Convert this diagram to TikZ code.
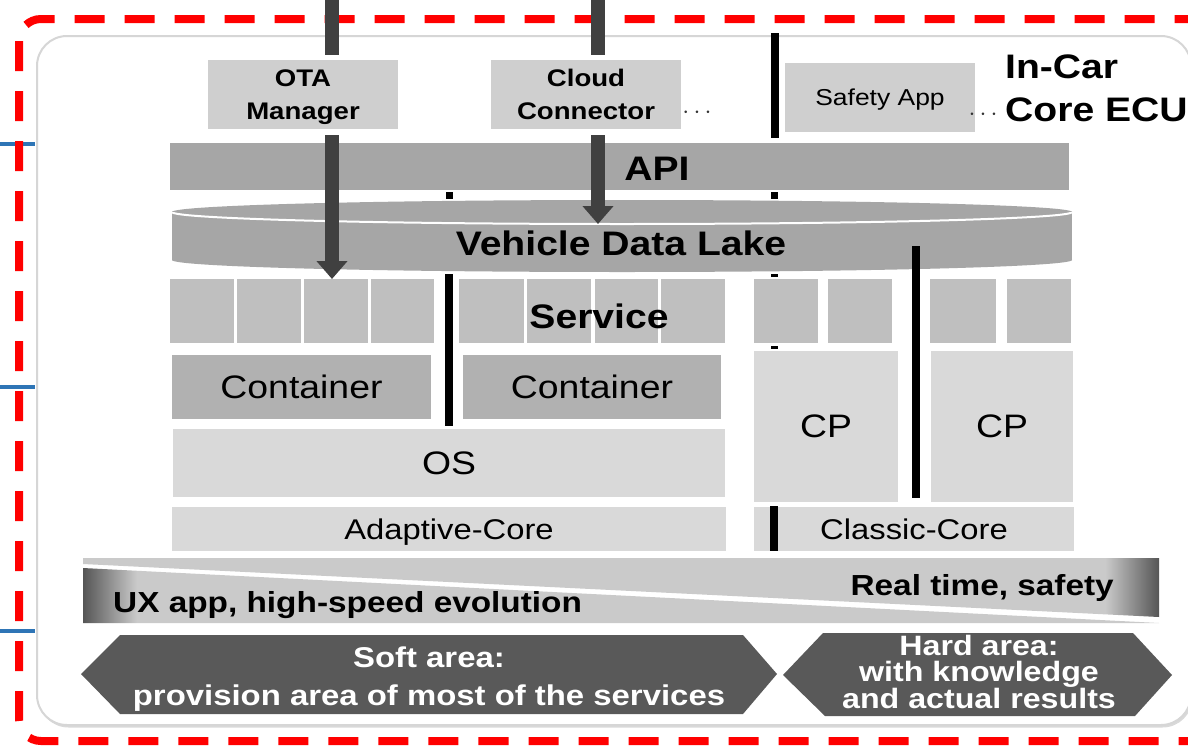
\documentclass[tikz,border=0pt]{standalone}
\usepackage{fontspec}
\setmainfont{Liberation Sans}[FakeStretch=1.15]
\usetikzlibrary{arrows.meta,shadows}

\definecolor{appgray}{HTML}{CFCFCF}
\definecolor{bargray}{HTML}{A6A6A6}
\definecolor{svcgray}{HTML}{BFBFBF}
\definecolor{contgray}{HTML}{B1B1B1}
\definecolor{basegray}{HTML}{D9D9D9}
\definecolor{areagray}{HTML}{595959}
\definecolor{arrowgray}{HTML}{404040}
\definecolor{tickblue}{HTML}{2E75B6}
\definecolor{framegray}{HTML}{D6D6D6}
\definecolor{bandlight}{HTML}{CACACA}
\definecolor{banddark}{HTML}{555555}

\pgfdeclarehorizontalshading{realtimefade}{100bp}{color(0bp)=(bandlight); color(72.5bp)=(bandlight); color(75bp)=(banddark); color(100bp)=(banddark)}
\pgfdeclarehorizontalshading{uxfade}{100bp}{color(0bp)=(banddark); color(25bp)=(banddark); color(27.5bp)=(bandlight); color(100bp)=(bandlight)}

\tikzset{
  block/.style={inner sep=0pt, outer sep=0pt, align=center, text depth=0pt},
  appbox/.style={block, fill=appgray, minimum width=190pt, minimum height=69pt},
  svc/.style={block, fill=svcgray, minimum height=64pt},
  apptext/.style={font=\fontsize{24}{33}\selectfont\bfseries},
  safetytext/.style={font=\fontsize{23}{28}\selectfont},
  bigtext/.style={inner sep=0pt, font=\fontsize{34}{43}\selectfont\bfseries},
  midtext/.style={font=\fontsize{32.5}{39}\selectfont},
  coretext/.style={font=\fontsize{28.5}{34}\selectfont},
  bandtext/.style={inner sep=0pt, font=\fontsize{29}{35}\selectfont\bfseries},
  areatext/.style={block, text=white, font=\fontsize{28.6}{38}\selectfont\bfseries},
  ellip/.style={inner sep=0pt, text=black!80, font=\fontsize{27}{27}\selectfont},
  divider/.style={line width=8pt},
  feed/.style={draw=arrowgray, line width=14pt},
  bigarrow/.style={draw=arrowgray, line width=14pt, -{Triangle[width=30pt,length=18pt]}},
  tick/.style={draw=tickblue, line width=4pt},
  frame/.style={draw=framegray, line width=2pt, fill=white, rounded corners=30pt,
    drop shadow={shadow xshift=1.5pt, shadow yshift=-2.5pt, opacity=0.3}},
  reddash/.style={draw=red, line width=8pt, dash pattern=on 30pt off 20pt, rounded corners=22pt}
}

\begin{document}
\begin{tikzpicture}[x=1pt,y=-1pt]
  \useasboundingbox (0,0) rectangle (1188,747);

  % ECU frame
  \draw[frame] (37,36) rectangle (1191,725);
  \foreach \y in {144,387,631}
    \draw[tick] (0,\y) -- (35,\y);

  % applications
  \node[appbox, apptext] (ota) at (303,94.5) {OTA\\Manager};
  \node[appbox, apptext] (cloud) at (586,94.5) {Cloud\\Connector};
  \node[appbox, safetytext] (safety) at (880,97.5) {Safety App};
  \node[ellip] (clouddots) at (697,113) {$\cdots$};
  \node[ellip] (safetydots) at (983,115) {$\cdots$};
  \node[bigtext, align=left, anchor=north west] (ecu) at (1005,55) {In-Car\\Core ECU};

  % API
  \node[block, fill=bargray, minimum width=899pt, minimum height=47pt] (api) at (619.5,166.5) {};
  \node[bigtext, anchor=base] (apitext) at (657,180) {API};

  % data lake
  \fill[bargray] (172,212) rectangle (1072,260);
  \fill[bargray] (622,212) ellipse[x radius=450, y radius=12];
  \fill[bargray] (622,260) ellipse[x radius=450, y radius=12];
  \begin{scope}
    \clip (160,212) rectangle (1080,232);
    \draw[white, line width=2pt] (622,212) ellipse[x radius=450, y radius=12];
  \end{scope}
  \coordinate (laketop) at (622,224);
  \node[bigtext, anchor=base] (lake) at (621,255) {Vehicle Data Lake};

  % services
  \foreach \g/\l/\w in {A1/170/64, A2/237/64, A3/304/64, A4/371/63,
                        B1/459/65, B2/527/64, B3/595/63, B4/661/64,
                        C1/754/64, C2/828/64, D1/930/66, D2/1007/64}
    \node[svc, minimum width=\w*1pt] (svc\g) at (\l+\w/2,311) {};
  \node[bigtext, anchor=base] (service) at (599,328) {Service};

  % adaptive side
  \node[block, fill=contgray, midtext, minimum width=259pt, minimum height=64pt] (contA) at (301.5,387) {Container};
  \node[block, fill=contgray, midtext, minimum width=258pt, minimum height=64pt] (contB) at (592,387) {Container};
  \node[block, fill=basegray, midtext, minimum width=552pt, minimum height=68pt] (os) at (449,463) {OS};
  \node[block, fill=basegray, coretext, minimum width=554pt, minimum height=44pt] (adaptive) at (449,529) {Adaptive-Core};

  % classic side
  \node[block, fill=basegray, midtext, minimum width=144pt, minimum height=151pt] (cpA) at (826,426.5) {CP};
  \node[block, fill=basegray, midtext, minimum width=142pt, minimum height=151pt] (cpB) at (1002,426.5) {CP};
  \node[block, fill=basegray, coretext, minimum width=320pt, minimum height=44pt] (classic) at (914,529) {Classic-Core};

  % separators
  \draw[divider] (775,33) -- (775,138);
  \draw[divider] (449,274) -- (449,426);
  \draw[divider] (916,246) -- (916,498);
  \draw[divider] (774,506) -- (774,551);
  \fill (445.5,191.5) rectangle (452.5,198.5);
  \fill (771,191.5) rectangle (778,198.5);
  \fill (771,274) rectangle (778,277);
  \fill (771,345.5) rectangle (778,348.5);

  % data flow
  \draw[bigarrow] ([xshift=29pt,yshift=-6pt]ota.south) -- ([xshift=29pt]ota.south |- svcA3.north);
  \draw[bigarrow] ([xshift=12pt,yshift=-6pt]cloud.south) -- ([xshift=12pt]cloud.south |- laketop);

  % soft / hard band
  \shade[shading=realtimefade] (83,558) -- (1159,558) -- (1159,617) -- (83,564) -- cycle;
  \shade[shading=uxfade] (83,568) -- (1159,623) -- (83,623) -- cycle;
  \node[bandtext, anchor=base west] (ux) at (113,612) {UX app, high-speed evolution};
  \node[bandtext, anchor=base east] (realtime) at (1114,595) {Real time, safety};

  \fill[areagray] (81,674) -- (120,635) -- (743,635) -- (777,674) -- (743,714) -- (120,714) -- cycle;
  \node[areatext] (soft) at (429,676.5) {Soft area:\\provision area of most of the services};
  \fill[areagray] (783,675) -- (823,633) -- (1133,633) -- (1172,675) -- (1135,716) -- (825,716) -- cycle;
  \node[areatext, font=\fontsize{28}{26.5}\selectfont\bfseries] (hard) at (979,671.5) {Hard area:\\with knowledge\\and actual results};

  % highlight
  \draw[reddash] (19,19) rectangle (1215,741);

  % inputs from outside
  \coordinate (otain) at (332,0);
  \coordinate (cloudin) at (598,0);
  \draw[feed] (otain) -- ([xshift=29pt,yshift=5pt]ota.north);
  \draw[feed] (cloudin) -- ([xshift=12pt,yshift=5pt]cloud.north);
\end{tikzpicture}
\end{document}
